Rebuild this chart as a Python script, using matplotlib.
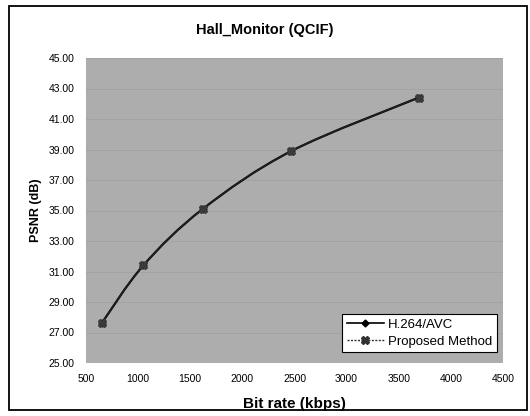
"""
Rate-distortion curve for the Hall_Monitor (QCIF) sequence:
H.264/AVC against the proposed method.
"""

# ========================================================================================
# IMPORTS
# ========================================================================================
import numpy as np
import matplotlib
matplotlib.use('Agg')
import matplotlib.pyplot as plt
from matplotlib.path import Path
from matplotlib.patches import PathPatch, Rectangle

# ========================================================================================
# DATA
# ========================================================================================
bitrate_avc = [650, 1050, 1620, 2470, 3690]       # kbps
psnr_avc = [27.6, 31.4, 35.1, 38.9, 42.4]          # dB

bitrate_prop = [650, 1050, 1620, 2470, 3690]      # kbps
psnr_prop = [27.6, 31.4, 35.1, 38.9, 42.4]         # dB

series_names = ['H.264/AVC', 'Proposed Method']
title = 'Hall_Monitor (QCIF)'
x_label = 'Bit rate (kbps)'
y_label = 'PSNR (dB)'
x_ticks = [500, 1000, 1500, 2000, 2500, 3000, 3500, 4000, 4500]
y_ticks = [25, 27, 29, 31, 33, 35, 37, 39, 41, 43, 45]

# ========================================================================================
# DEFINE FUNCTIONS
# ========================================================================================
def smooth_path(xs, ys):

    """
    Excel-style smoothed line: cubic Bezier segments through every point,
    control points taken from the neighbouring points (Catmull-Rom).
    """

    pts = np.column_stack([xs, ys]).astype(float)
    n = len(pts)
    verts = [pts[0]]
    codes = [Path.MOVETO]
    for i in range(n - 1):
        p0 = pts[i - 1] if i > 0 else pts[i]
        p1 = pts[i]
        p2 = pts[i + 1]
        p3 = pts[i + 2] if i + 2 < n else pts[i + 1]
        c1 = p1 + (p2 - p0) / 6.0
        c2 = p2 - (p3 - p1) / 6.0
        verts += [c1, c2, p2]
        codes += [Path.CURVE4] * 3
    return Path(verts, codes)

# ========================================================================================
# PLOT
# ========================================================================================
plt.rcParams['font.family'] = ['Liberation Sans', 'DejaVu Sans']

fig = plt.figure(figsize=(5.30, 4.16), dpi=100)
ax = fig.add_axes([86 / 530, 1 - 363 / 416, 417 / 530, 305 / 416])

# outer chart frame
fig.patches.append(Rectangle((9 / 530, 1 - 410 / 416), 518 / 530, 404 / 416,
                             transform=fig.transFigure, fill=False,
                             edgecolor='black', linewidth=1.3))

ax.set_facecolor('#adadad')
ax.set_xlim(500, 4500)
ax.set_ylim(25, 45)
ax.set_xticks(x_ticks)
ax.set_yticks(y_ticks)
ax.set_yticklabels(['%.2f' % v for v in y_ticks])
ax.tick_params(axis='both', which='both', length=0, labelsize=7.5, pad=8)
for s in ax.spines.values():
    s.set_visible(False)
ax.grid(axis='y', color='#a2a2a2', linewidth=0.6)
ax.set_axisbelow(True)

# smoothed curves
ax.add_patch(PathPatch(smooth_path(bitrate_avc, psnr_avc), facecolor='none',
                       edgecolor='black', linewidth=1.6, zorder=3))
ax.add_patch(PathPatch(smooth_path(bitrate_prop, psnr_prop), facecolor='none',
                       edgecolor='#222222', linewidth=1.0, zorder=3))

# markers
ax.plot(bitrate_avc, psnr_avc, linestyle='none', marker='D', markersize=3.5,
        color='black', zorder=4)
ax.plot(bitrate_prop, psnr_prop, linestyle='none', marker='X', markersize=5.5,
        color='#3a3a3a', zorder=5)

# legend handles
h1, = ax.plot([], [], color='black', linewidth=1.2, marker='D', markersize=3.5,
              label=series_names[0])
h2, = ax.plot([], [], color='#333333', linewidth=1.0, linestyle=(0, (1.5, 1)),
              marker='X', markersize=5.5, label=series_names[1])
leg = ax.legend(handles=[h1, h2], loc='lower right', bbox_to_anchor=(0.985, 0.035),
                fontsize=9.5, frameon=True, fancybox=False, edgecolor='black',
                framealpha=1, handlelength=2.8, handletextpad=0.3,
                borderpad=0.35, labelspacing=0.35, borderaxespad=0)
leg.get_frame().set_linewidth(0.8)

fig.text(0.5, 1 - 30 / 416, title, ha='center', va='center',
         fontsize=10.5, fontweight='bold')
ax.set_xlabel(x_label, fontsize=11, fontweight='bold', labelpad=9)
ax.set_ylabel(y_label, fontsize=9, fontweight='bold', labelpad=5)

fig.savefig('out.png', dpi=100)
